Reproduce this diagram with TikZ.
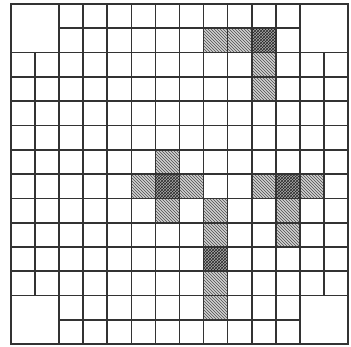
\documentclass[tikz,border=0pt]{standalone}
\usetikzlibrary{patterns}
\tikzset{
  gridline/.style={line width=1.7pt, draw=black!80, line cap=rect},
  lightcell/.style={fill=gray!35, postaction={pattern=north west lines, pattern color=black!70}},
  darkcell/.style={fill=gray!65, postaction={pattern=crosshatch, pattern color=black!85}}
}
\begin{document}
\begin{tikzpicture}
\useasboundingbox (0,0) rectangle (351pt,346pt);
\fill[white] (0,0) rectangle (351pt,346pt);
\begin{scope}[x=24.07pt,y=-24.3pt,shift={(11pt,342pt)}]
  % shaded cells
  \foreach \c/\r in {8/1,9/1,10/2,10/3,6/6,5/7,7/7,6/8,8/8,8/9,8/11,8/12,10/7,12/7,11/8,11/9}
    \path[lightcell] (\c,\r) rectangle ++(1,1);
  \foreach \c/\r in {10/1,6/7,8/10,11/7}
    \path[darkcell] (\c,\r) rectangle ++(1,1);
  % grid lines
  \foreach \i in {2,...,12} {
    \draw[gridline] (\i,0) -- (\i,14);
    \draw[gridline] (0,\i) -- (14,\i);
  }
  \foreach \i in {1,13} {
    \draw[gridline] (\i,2) -- (\i,12);
    \draw[gridline] (2,\i) -- (12,\i);
  }
  \draw[gridline] (0,0) rectangle (14,14);
\end{scope}
\end{tikzpicture}
\end{document}
